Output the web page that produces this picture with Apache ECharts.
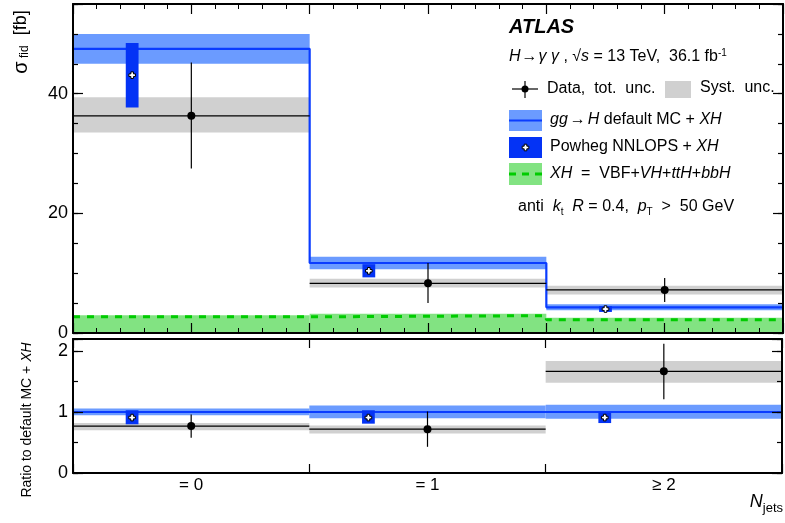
<!DOCTYPE html>
<html>
<head>
<meta charset="utf-8">
<script src="https://cdn.jsdelivr.net/npm/echarts@6/dist/echarts.min.js"></script>
<style>html,body{margin:0;padding:0;background:#fff}#c{width:785px;height:523px}</style>
</head>
<body>
<div id="c"></div>
<script>
// ---------- data ----------
const categories = ['= 0', '= 1', '≥ 2'];
// top panel: fiducial cross sections [fb]
const defaultMC     = [47.5, 11.7, 4.3];
const defaultMCUnc  = [2.5, 1.05, 0.5];
const powheg        = [43.1, 10.4, 4.0];
const powhegUnc     = [5.4, 1.1, 0.48];
const dataVal       = [36.3, 8.3, 7.2];
const dataLo        = [27.5, 5.0, 5.2];
const dataHi        = [45.2, 11.7, 9.2];
const systLo        = [33.5, 7.6, 6.45];
const systHi        = [39.4, 9.05, 7.9];
const xhVal         = [2.7, 2.9, 2.2];
const xhBandHi      = [2.95, 3.2, 2.55];
// bottom panel: ratio to default MC + XH
const ratioDefault  = [1.0, 1.0, 1.0];
const ratioDefLo    = [0.95, 0.90, 0.89];
const ratioDefHi    = [1.06, 1.11, 1.12];
const ratioPowheg   = [0.91, 0.91, 0.91];
const ratioPowLo    = [0.80, 0.81, 0.82];
const ratioPowHi    = [1.03, 1.03, 0.99];
const ratioData     = [0.77, 0.72, 1.67];
const ratioDataLo   = [0.58, 0.43, 1.21];
const ratioDataHi   = [0.96, 1.01, 2.12];
const ratioSystLo   = [0.70, 0.65, 1.48];
const ratioSystHi   = [0.82, 0.78, 1.84];
// axis ticks
const topYTicks = [0, 20, 40];
const botYTicks = [0, 1, 2];

// ---------- helpers ----------
const FONT = '"Liberation Sans", Arial, Helvetica, sans-serif';
const C_BAND = '#6b9bff', C_LINE = '#0a3cff', C_POW = '#0433f5', C_GREY = '#d0d0d0',
      C_GFILL = '#82e382', C_GLINE = '#00cc00';

function steps(vals) { const out = []; vals.forEach((v, i) => { out.push([i, v]); out.push([i + 1, v]); }); return out; }
function bandData(lo, hi) { return lo.map((l, i) => [i, l, hi[i]]); }

function bandRender(color) {
  return function (params, api) {
    const i = api.value(0), lo = api.value(1), hi = api.value(2);
    const p0 = api.coord([i, hi]), p1 = api.coord([i + 1, lo]);
    return { type: 'rect', shape: { x: p0[0], y: p0[1], width: p1[0] - p0[0], height: p1[1] - p0[1] }, style: { fill: color } };
  };
}
function plusPath(cx, cy) {
  const a = 3.3, b = 1.3;
  return { type: 'polygon', shape: { points: [
    [cx - b, cy - a], [cx + b, cy - a], [cx + b, cy - b], [cx + a, cy - b], [cx + a, cy + b], [cx + b, cy + b],
    [cx + b, cy + a], [cx - b, cy + a], [cx - b, cy + b], [cx - a, cy + b], [cx - a, cy - b], [cx - b, cy - b]] },
    style: { fill: '#fff', stroke: '#000', lineWidth: 1 } };
}
function powRender(params, api) {
  const i = api.value(0), v = api.value(1), lo = api.value(2), hi = api.value(3);
  const p0 = api.coord([i + 0.25 - 0.027, hi]), p1 = api.coord([i + 0.25 + 0.027, lo]);
  const c = api.coord([i + 0.25, v]);
  return { type: 'group', children: [
    { type: 'rect', shape: { x: p0[0], y: p0[1], width: p1[0] - p0[0], height: p1[1] - p0[1] }, style: { fill: C_POW } },
    plusPath(c[0], c[1])
  ] };
}
function dataRender(params, api) {
  const i = api.value(0), v = api.value(1), lo = api.value(2), hi = api.value(3);
  const l = api.coord([i, v]), r = api.coord([i + 1, v]);
  const c = api.coord([i + 0.5, v]), t = api.coord([i + 0.5, hi]), b = api.coord([i + 0.5, lo]);
  return { type: 'group', children: [
    { type: 'line', shape: { x1: l[0], y1: l[1], x2: r[0], y2: r[1] }, style: { stroke: '#000', lineWidth: 1.2 } },
    { type: 'line', shape: { x1: t[0], y1: t[1], x2: b[0], y2: b[1] }, style: { stroke: '#000', lineWidth: 1.2 } },
    { type: 'circle', shape: { cx: c[0], cy: c[1], r: 4 }, style: { fill: '#000' } }
  ] };
}

function xAx(grid, pos, interval, major, minor, showLine, extra) {
  return Object.assign({
    type: 'value', gridIndex: grid, position: pos, min: 0, max: 3, interval: interval, z: 20,
    axisLine: { show: showLine, onZero: false, lineStyle: { color: '#000', width: 2 } },
    axisTick: { show: major > 0, inside: true, length: major, lineStyle: { color: '#000', width: 1.2 } },
    minorTick: { show: minor > 0, splitNumber: 5, length: minor, lineStyle: { color: '#000', width: 1 } },
    axisLabel: { show: false }, splitLine: { show: false }
  }, extra || {});
}
function yAx(grid, pos, max, interval, tlen, showLine, labels, fmt) {
  return {
    type: 'value', gridIndex: grid, position: pos, min: 0, max: max, interval: interval, z: 20,
    axisLine: { show: showLine, onZero: false, lineStyle: { color: '#000', width: 2 } },
    axisTick: { show: true, inside: true, length: tlen, lineStyle: { color: '#000', width: 1.2 } },
    axisLabel: { show: labels, formatter: fmt, color: '#000', fontFamily: FONT, fontSize: 18, margin: 5 },
    splitLine: { show: false }
  };
}

const chart = echarts.init(document.getElementById('c'), null, { renderer: 'canvas' });
const T16 = '16px ' + FONT;
const IT = { fontStyle: 'italic', fontSize: 16, fontFamily: FONT };
const option = {
  animation: false,
  backgroundColor: '#fff',
  grid: [
    { left: 73, top: 4, width: 710, height: 329 },
    { left: 73, top: 339, width: 710, height: 134 }
  ],
  xAxis: [
    xAx(0, 'bottom', 0.5, 10, 5, true),
    xAx(0, 'top', 0.5, 10, 5, true),
    xAx(1, 'bottom', 1, 9, 0, true),
    xAx(1, 'top', 1, 9, 0, true),
    xAx(1, 'bottom', 0.5, 0, 0, false, {
      axisLabel: { show: true, color: '#000', fontFamily: FONT, fontSize: 17, margin: 4,
        formatter: v => { const i = Math.floor(v); return Math.abs(v - i - 0.5) < 1e-6 && categories[i] ? categories[i] : ''; } }
    })
  ],
  yAxis: [
    yAx(0, 'left', 55, 5, 5, true, false),
    yAx(0, 'left', 55, 20, 10, false, true, v => topYTicks.includes(v) ? String(v) : ''),
    yAx(0, 'right', 55, 5, 5, true, false),
    yAx(0, 'right', 55, 20, 10, false, false),
    yAx(1, 'left', 2.2, 0.5, 5, true, false),
    yAx(1, 'left', 2.2, 1, 10, false, true, v => botYTicks.includes(v) ? String(v) : ''),
    yAx(1, 'right', 2.2, 0.5, 5, true, false),
    yAx(1, 'right', 2.2, 1, 10, false, false)
  ],
  series: [
    // ---- top panel ----
    { type: 'custom', xAxisIndex: 0, yAxisIndex: 0, z: 1, renderItem: bandRender(C_GFILL),
      data: bandData(xhBandHi.map(() => 0), xhBandHi) },
    { type: 'custom', xAxisIndex: 0, yAxisIndex: 0, z: 2, renderItem: bandRender(C_GREY),
      data: bandData(systLo, systHi) },
    { type: 'custom', xAxisIndex: 0, yAxisIndex: 0, z: 3, renderItem: bandRender(C_BAND),
      data: bandData(defaultMC.map((v, i) => v - defaultMCUnc[i]), defaultMC.map((v, i) => v + defaultMCUnc[i])) },
    { type: 'line', xAxisIndex: 0, yAxisIndex: 0, z: 4, data: steps(defaultMC), symbol: 'none',
      lineStyle: { color: C_LINE, width: 2.2 } },
    { type: 'line', xAxisIndex: 0, yAxisIndex: 0, z: 4, data: steps(xhVal), symbol: 'none',
      lineStyle: { color: C_GLINE, width: 3, type: [7, 7] } },
    { type: 'custom', xAxisIndex: 0, yAxisIndex: 0, z: 5, renderItem: powRender,
      data: powheg.map((v, i) => [i, v, v - powhegUnc[i], v + powhegUnc[i]]) },
    { type: 'custom', xAxisIndex: 0, yAxisIndex: 0, z: 6, renderItem: dataRender,
      data: dataVal.map((v, i) => [i, v, dataLo[i], dataHi[i]]) },
    // ---- ratio panel ----
    { type: 'custom', xAxisIndex: 2, yAxisIndex: 4, z: 2, renderItem: bandRender(C_GREY),
      data: bandData(ratioSystLo, ratioSystHi) },
    { type: 'custom', xAxisIndex: 2, yAxisIndex: 4, z: 3, renderItem: bandRender(C_BAND),
      data: bandData(ratioDefLo, ratioDefHi) },
    { type: 'line', xAxisIndex: 2, yAxisIndex: 4, z: 4, data: steps(ratioDefault), symbol: 'none',
      lineStyle: { color: C_LINE, width: 2 } },
    { type: 'custom', xAxisIndex: 2, yAxisIndex: 4, z: 5, renderItem: powRender,
      data: ratioPowheg.map((v, i) => [i, v, ratioPowLo[i], ratioPowHi[i]]) },
    { type: 'custom', xAxisIndex: 2, yAxisIndex: 4, z: 6, renderItem: dataRender,
      data: ratioData.map((v, i) => [i, v, ratioDataLo[i], ratioDataHi[i]]) }
  ],
  graphic: [
    // axis titles
    { type: 'text', x: 21, y: 42, rotation: Math.PI / 2, z: 100,
      style: { text: '{s|σ}{sub| fid}{n|  [fb]}', align: 'center', verticalAlign: 'middle', fill: '#000', font: '18px ' + FONT,
        rich: { s: { fontSize: 20, fontFamily: FONT, verticalAlign: 'top' }, sub: { fontSize: 12, fontFamily: FONT, verticalAlign: 'bottom', padding: [8, 0, 0, 0] }, n: { fontSize: 18, fontFamily: FONT } } } },
    { type: 'text', x: 27, y: 420, rotation: Math.PI / 2, z: 100,
      style: { text: 'Ratio to default MC + {i|XH}', align: 'center', verticalAlign: 'middle', fill: '#000', font: '14px ' + FONT,
        rich: { i: { fontStyle: 'italic', fontSize: 14, fontFamily: FONT } } } },
    { type: 'text', x: 783, y: 515, z: 100,
      style: { text: '{n|N}{s|jets}', align: 'right', verticalAlign: 'bottom', fill: '#000', font: '18px ' + FONT,
        rich: { n: { fontStyle: 'italic', fontSize: 18, fontFamily: FONT, verticalAlign: 'top' }, s: { fontSize: 13, fontFamily: FONT, verticalAlign: 'bottom', padding: [9, 0, 0, 0] } } } },
    // header texts
    { type: 'text', x: 509, y: 27, z: 100,
      style: { text: 'ATLAS', fill: '#000', font: 'italic bold 20px ' + FONT, verticalAlign: 'middle' } },
    { type: 'text', x: 509, y: 57, z: 100,
      style: { text: '{i|H}{a|→}{i|γ γ} , √{i|s} = 13 TeV,  36.1 fb{sup|-1}', fill: '#000', font: T16, verticalAlign: 'middle',
        rich: { i: IT, a: { fontSize: 16, fontFamily: FONT, padding: [0, 1, 0, 1] }, sup: { fontSize: 10, fontFamily: FONT, verticalAlign: 'top', padding: [0, 0, 8, 0] } } } },
    // legend: data
    { type: 'line', z: 100, shape: { x1: 512, y1: 89, x2: 538, y2: 89 }, style: { stroke: '#000', lineWidth: 1.2 } },
    { type: 'line', z: 100, shape: { x1: 525, y1: 81, x2: 525, y2: 98 }, style: { stroke: '#000', lineWidth: 1.2 } },
    { type: 'circle', z: 100, shape: { cx: 525, cy: 89, r: 3.5 }, style: { fill: '#000' } },
    { type: 'text', x: 547, y: 89, z: 100, style: { text: 'Data,  tot.  unc.', fill: '#000', font: T16, verticalAlign: 'middle' } },
    { type: 'rect', z: 100, shape: { x: 665, y: 81, width: 26, height: 17 }, style: { fill: C_GREY } },
    { type: 'text', x: 700, y: 88, z: 100, style: { text: 'Syst.  unc.', fill: '#000', font: T16, verticalAlign: 'middle' } },
    // legend: default MC
    { type: 'rect', z: 100, shape: { x: 509, y: 110, width: 33, height: 21 }, style: { fill: C_BAND } },
    { type: 'line', z: 101, shape: { x1: 509, y1: 120.5, x2: 542, y2: 120.5 }, style: { stroke: C_LINE, lineWidth: 2.2 } },
    { type: 'text', x: 550, y: 120, z: 100,
      style: { text: '{i|gg}{a|→}{i|H} default MC + {i|XH}', fill: '#000', font: T16, verticalAlign: 'middle',
        rich: { i: IT, a: { fontSize: 16, fontFamily: FONT, padding: [0, 2, 0, 2] } } } },
    // legend: powheg
    { type: 'rect', z: 100, shape: { x: 509, y: 137, width: 33, height: 21 }, style: { fill: C_POW } },
    Object.assign(plusPath(525.5, 147.5), { z: 101 }),
    { type: 'text', x: 550, y: 147, z: 100,
      style: { text: 'Powheg NNLOPS + {i|XH}', fill: '#000', font: T16, verticalAlign: 'middle', rich: { i: IT } } },
    // legend: XH
    { type: 'rect', z: 100, shape: { x: 509, y: 163, width: 33, height: 22 }, style: { fill: C_GFILL } },
    { type: 'line', z: 101, shape: { x1: 509, y1: 174, x2: 542, y2: 174 }, style: { stroke: C_GLINE, lineWidth: 3, lineDash: [7, 6] } },
    { type: 'text', x: 550, y: 174, z: 100,
      style: { text: '{i|XH}  =  VBF+{i|VH}+{i|ttH}+{i|bbH}', fill: '#000', font: T16, verticalAlign: 'middle', rich: { i: IT } } },
    // jet definition
    { type: 'text', x: 518, y: 207, z: 100,
      style: { text: 'anti  {i|k}{sub|t}  {i|R} = 0.4,  {i|p}{sub|T}  >  50 GeV', fill: '#000', font: T16, verticalAlign: 'middle',
        rich: { i: IT, sub: { fontSize: 10, fontFamily: FONT, verticalAlign: 'bottom', padding: [11, 0, 0, 0] } } } }
  ]
};
chart.setOption(option);
</script>
</body>
</html>
